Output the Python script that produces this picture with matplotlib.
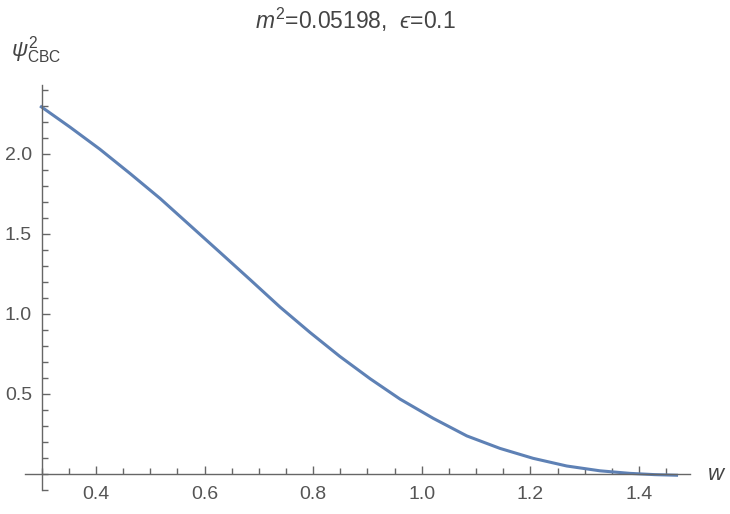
import matplotlib
matplotlib.use("Agg")
import matplotlib.pyplot as plt
from matplotlib.ticker import MultipleLocator

plt.rcParams['font.family'] = ['Liberation Sans', 'DejaVu Sans']
plt.rcParams['mathtext.fontset'] = 'custom'
plt.rcParams['mathtext.rm'] = 'Liberation Sans'
plt.rcParams['mathtext.it'] = 'Liberation Sans:italic'
plt.rcParams['mathtext.fallback'] = 'stixsans'

# curve
w_vals = [0.297, 0.352, 0.407, 0.463, 0.518, 0.573, 0.628, 0.684, 0.739, 0.794,
          0.849, 0.905, 0.960, 1.021, 1.083, 1.144, 1.205, 1.267, 1.328, 1.383,
          1.429, 1.472]
psi2_vals = [2.300, 2.168, 2.030, 1.877, 1.722, 1.554, 1.386, 1.214, 1.043, 0.885,
             0.735, 0.595, 0.468, 0.348, 0.238, 0.160, 0.098, 0.050, 0.020, 0.004,
             -0.004, -0.008]

x_ticks = [0.4, 0.6, 0.8, 1.0, 1.2, 1.4]
y_ticks = [0.5, 1.0, 1.5, 2.0]

title = "$m^2$=0.05198,  $\u03f5$=0.1"
ylabel = r"$\psi^2_{\mathrm{CBC}}$"
xlabel = r"$w$"

W, H = 730, 514
fig = plt.figure(figsize=(W / 100, H / 100), dpi=100)
ax = fig.add_axes([25 / W, 1 - 490 / H, 665 / W, 405 / H])

ax.plot(w_vals, psi2_vals, color='#5E81B5', lw=2.2, solid_joinstyle='round',
        solid_capstyle='butt')

ax.set_xlim(0.2692, 1.494)
ax.set_ylim(-0.1, 2.431)

axis_col = '#666666'
for s in ['top', 'right']:
    ax.spines[s].set_visible(False)
ax.spines['left'].set_position(('data', 0.3))
ax.spines['bottom'].set_position(('data', 0.0))
for s in ['left', 'bottom']:
    ax.spines[s].set_color(axis_col)
    ax.spines[s].set_linewidth(1.0)

ax.set_xticks(x_ticks)
ax.set_xticklabels([f"{t:.1f}" for t in x_ticks])
ax.set_yticks(y_ticks)
ax.set_yticklabels([f"{t:.1f}" for t in y_ticks])
ax.xaxis.set_minor_locator(MultipleLocator(0.05))
ax.yaxis.set_minor_locator(MultipleLocator(0.1))

ax.tick_params(which='both', direction='in', colors=axis_col, labelcolor='#555555',
               labelsize=14, width=1.0)
ax.tick_params(which='major', length=6, pad=9)
ax.tick_params(which='minor', length=4)
ax.tick_params(axis='y', which='major', pad=7)

fig.text(355 / W, 1 - 20 / H, title, ha='center', va='center', fontsize=16.5, color='#444444')
fig.text(11 / W, 1 - 50 / H, ylabel, ha='left', va='center', fontsize=16, color='#444444')
fig.text(707 / W, 1 - 474 / H, xlabel, ha='left', va='center', fontsize=16, color='#444444')

fig.savefig("out.png", dpi=100, facecolor='white')
